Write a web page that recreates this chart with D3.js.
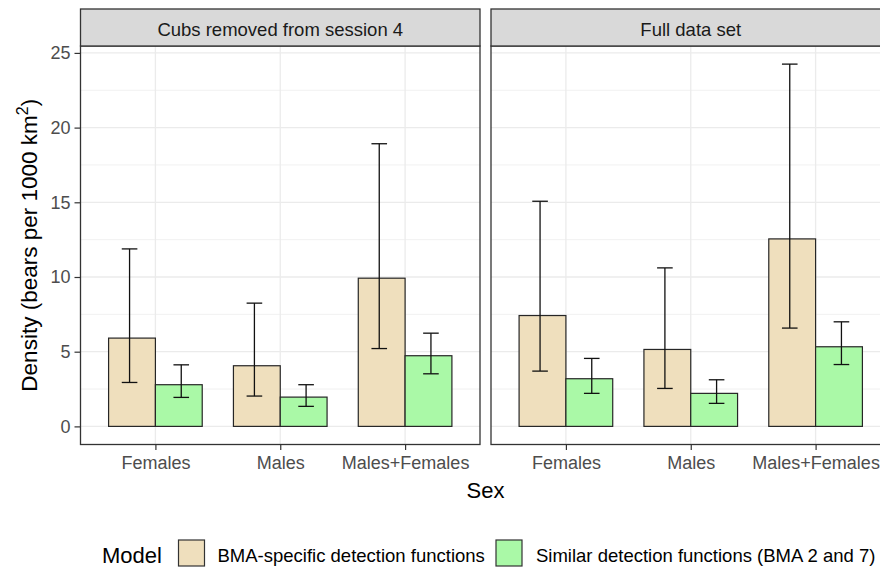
<!DOCTYPE html>
<html>
<head>
<meta charset="utf-8">
<script src="https://cdn.jsdelivr.net/npm/d3@7"></script>
<style>
  html, body { margin: 0; padding: 0; background: #fff; }
  svg { display: block; font-family: "Liberation Sans", Arial, sans-serif; }
</style>
</head>
<body>
<svg id="chart" width="880" height="567"></svg>
<script>
// Bear density estimates by sex, two model types, two data sets
const sexes = ["Females", "Males", "Males+Females"];
const models = ["BMA-specific detection functions", "Similar detection functions (BMA 2 and 7)"];
const panels = ["Cubs removed from session 4", "Full data set"];
const yTicks = [0, 5, 10, 15, 20, 25];

// Cubs removed from session 4
const cubsBmaDensity = [5.91, 4.06, 9.92];
const cubsBmaLower   = [2.94, 2.03, 5.21];
const cubsBmaUpper   = [11.88, 8.25, 18.92];
const cubsSimDensity = [2.79, 1.96, 4.73];
const cubsSimLower   = [1.94, 1.34, 3.52];
const cubsSimUpper   = [4.12, 2.79, 6.24];

// Full data set
const fullBmaDensity = [7.42, 5.15, 12.55];
const fullBmaLower   = [3.70, 2.54, 6.58];
const fullBmaUpper   = [15.07, 10.61, 24.25];
const fullSimDensity = [3.19, 2.21, 5.33];
const fullSimLower   = [2.21, 1.54, 4.14];
const fullSimUpper   = [4.55, 3.12, 7.00];

const fills = ["#EFDFBD", "#AAF9A7"];

function rows(panel, dens, lo, hi, model) {
  return sexes.map((s, i) => ({ panel, sex: s, model, value: dens[i], lower: lo[i], upper: hi[i] }));
}
const data = [
  ...rows(panels[0], cubsBmaDensity, cubsBmaLower, cubsBmaUpper, models[0]),
  ...rows(panels[0], cubsSimDensity, cubsSimLower, cubsSimUpper, models[1]),
  ...rows(panels[1], fullBmaDensity, fullBmaLower, fullBmaUpper, models[0]),
  ...rows(panels[1], fullSimDensity, fullSimLower, fullSimUpper, models[1])
];

const svg = d3.select("#chart");

// Layout
const stripTop = 9, panelTop = 46, panelBottom = 444.5;
const panelX = [[80.5, 480], [491, 890.5]];

// Shared y scale with 5% expansion on both ends
const yMax = d3.max(data, d => d.upper);
const pad = yMax * 0.05;
const y = d3.scaleLinear().domain([-pad, yMax + pad]).range([panelBottom, panelTop]);
const yMinor = d3.range(2.5, 25, 5);

const color = d3.scaleOrdinal().domain(models).range(fills);

panels.forEach((p, pi) => {
  const [x0, x1] = panelX[pi];
  const x = d3.scalePoint().domain(sexes).range([x0, x1]).padding(0.6);
  const step = x.step();
  const dodge = d3.scaleBand().domain(models).range([-0.375 * step, 0.375 * step]).padding(0);
  const errOffset = d3.scaleOrdinal().domain(models).range([-0.207 * step, 0.207 * step]);
  const capHalf = 0.0625 * step;

  const g = svg.append("g");

  // panel background
  g.append("rect").attr("x", x0).attr("y", panelTop).attr("width", x1 - x0).attr("height", panelBottom - panelTop)
    .attr("fill", "#fff");

  // minor grid
  g.selectAll(".ymin").data(yMinor).join("line")
    .attr("x1", x0).attr("x2", x1).attr("y1", d => y(d)).attr("y2", d => y(d))
    .attr("stroke", "#EBEBEB").attr("stroke-width", 0.7);
  // major grid
  g.selectAll(".ymaj").data(yTicks).join("line")
    .attr("x1", x0).attr("x2", x1).attr("y1", d => y(d)).attr("y2", d => y(d))
    .attr("stroke", "#EBEBEB").attr("stroke-width", 1.3);
  g.selectAll(".xmaj").data(sexes).join("line")
    .attr("x1", d => x(d)).attr("x2", d => x(d)).attr("y1", panelTop).attr("y2", panelBottom)
    .attr("stroke", "#EBEBEB").attr("stroke-width", 1.3);

  const pd = data.filter(d => d.panel === p);

  // bars
  g.selectAll(".bar").data(pd).join("rect")
    .attr("x", d => x(d.sex) + dodge(d.model))
    .attr("width", dodge.bandwidth())
    .attr("y", d => y(d.value))
    .attr("height", d => y(0) - y(d.value))
    .attr("fill", d => color(d.model))
    .attr("stroke", "#262626").attr("stroke-width", 1.2);

  // error bars
  const eb = g.selectAll(".err").data(pd).join("g")
    .attr("transform", d => `translate(${x(d.sex) + errOffset(d.model)},0)`)
    .attr("stroke", "#111").attr("stroke-width", 1.3).attr("fill", "none");
  eb.append("line").attr("x1", 0).attr("x2", 0).attr("y1", d => y(d.lower)).attr("y2", d => y(d.upper));
  eb.append("line").attr("x1", -capHalf).attr("x2", capHalf).attr("y1", d => y(d.upper)).attr("y2", d => y(d.upper));
  eb.append("line").attr("x1", -capHalf).attr("x2", capHalf).attr("y1", d => y(d.lower)).attr("y2", d => y(d.lower));

  // panel border
  g.append("rect").attr("x", x0).attr("y", panelTop).attr("width", x1 - x0).attr("height", panelBottom - panelTop)
    .attr("fill", "none").attr("stroke", "#333").attr("stroke-width", 1.3);

  // strip
  g.append("rect").attr("x", x0).attr("y", stripTop).attr("width", x1 - x0).attr("height", panelTop - stripTop)
    .attr("fill", "#D9D9D9").attr("stroke", "#333").attr("stroke-width", 1.3);
  g.append("text").attr("x", (x0 + x1) / 2).attr("y", 35.5).attr("text-anchor", "middle")
    .attr("font-size", 18.5).attr("fill", "#1A1A1A").text(p);

  // x axis
  const xAxis = d3.axisBottom(x).tickSize(5.5).tickPadding(6);
  const xa = g.append("g").attr("transform", `translate(0,${panelBottom})`).call(xAxis);
  xa.select(".domain").remove();
  xa.selectAll(".tick line").attr("stroke", "#333").attr("stroke-width", 1.2);
  xa.selectAll(".tick text").attr("font-size", 18).attr("fill", "#4D4D4D")
    .attr("font-family", "Liberation Sans, Arial, sans-serif").attr("dy", "0.71em");
});

// y axis on left panel
const yAxis = d3.axisLeft(y).tickValues(yTicks).tickSize(6).tickPadding(4);
const ya = svg.append("g").attr("transform", `translate(${panelX[0][0]},0)`).call(yAxis);
ya.select(".domain").remove();
ya.selectAll(".tick line").attr("stroke", "#333").attr("stroke-width", 1.2);
ya.selectAll(".tick text").attr("font-size", 18).attr("fill", "#4D4D4D")
  .attr("font-family", "Liberation Sans, Arial, sans-serif");

// axis titles
const yTitle = svg.append("text")
  .attr("transform", `translate(37,${(panelTop + panelBottom) / 2}) rotate(-90)`)
  .attr("text-anchor", "middle").attr("font-size", 22.5).attr("fill", "#000");
yTitle.append("tspan").text("Density (bears per 1000 km");
yTitle.append("tspan").attr("font-size", 16).attr("dy", -9).text("2");
yTitle.append("tspan").attr("dy", 9).text(")");

svg.append("text").attr("x", (panelX[0][0] + panelX[1][1]) / 2).attr("y", 498)
  .attr("text-anchor", "middle").attr("font-size", 22).attr("fill", "#000").text("Sex");

// legend
const legend = svg.append("g");
legend.append("text").attr("x", 102).attr("y", 563).attr("font-size", 22).attr("fill", "#000").text("Model");
const keyX = [178.5, 496];
const labelX = [217.5, 536];
models.forEach((m, i) => {
  legend.append("rect").attr("x", keyX[i]).attr("y", 540).attr("width", 26).attr("height", 26)
    .attr("fill", color(m)).attr("stroke", "#333").attr("stroke-width", 1.2);
  legend.append("text").attr("x", labelX[i]).attr("y", 561.5).attr("font-size", 18.5).attr("fill", "#000").text(m);
});
</script>
</body>
</html>
